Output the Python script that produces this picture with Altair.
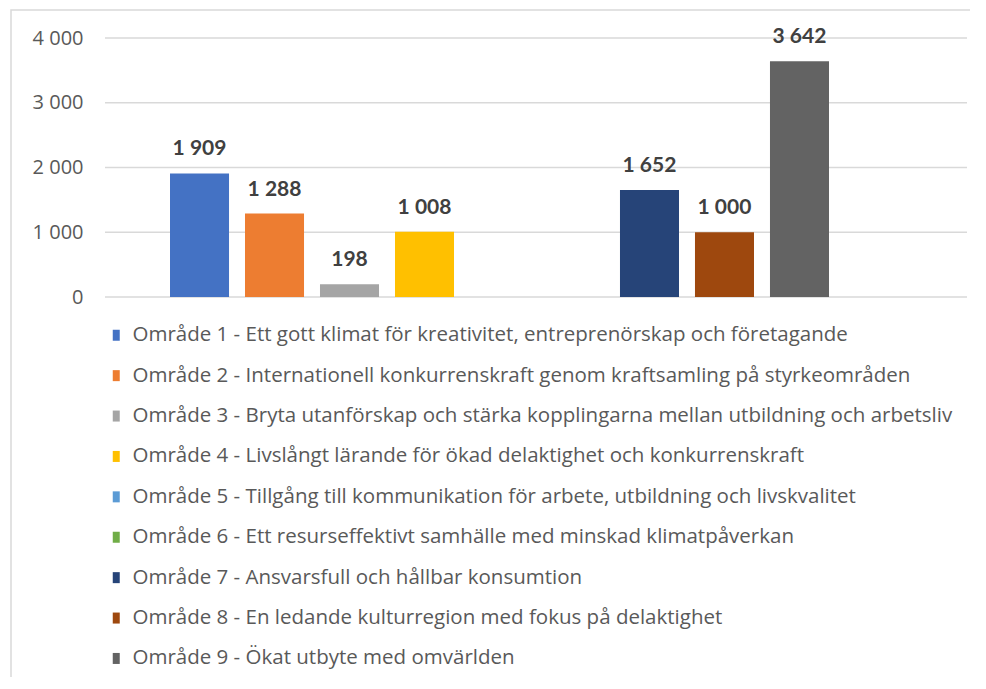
import altair as alt
import pandas as pd

areas = [
    "Område 1 - Ett gott klimat för kreativitet, entreprenörskap och företagande",
    "Område 2 - Internationell konkurrenskraft genom kraftsamling på styrkeområden",
    "Område 3 - Bryta utanförskap och stärka kopplingarna mellan utbildning och arbetsliv",
    "Område 4 - Livslångt lärande för ökad delaktighet och konkurrenskraft",
    "Område 5 - Tillgång till kommunikation för arbete, utbildning och livskvalitet",
    "Område 6 - Ett resurseffektivt samhälle med minskad klimatpåverkan",
    "Område 7 - Ansvarsfull och hållbar konsumtion",
    "Område 8 - En ledande kulturregion med fokus på delaktighet",
    "Område 9 - Ökat utbyte med omvärlden",
]
values = [1909, 1288, 198, 1008, None, None, 1652, 1000, 3642]
colors = ["#4472C4", "#ED7D31", "#A5A5A5", "#FFC000", "#5B9BD5",
          "#70AD47", "#264478", "#9E480E", "#636363"]
y_ticks = [0, 1000, 2000, 3000, 4000]

df = pd.DataFrame({"area": areas, "value": values})
grid_df = pd.DataFrame({"tick": y_ticks})

FONT = "Open Sans"
TXT = "#595959"

y_scale = alt.Scale(domain=[0, 4000], nice=False)
y_axis = alt.Axis(values=y_ticks, title=None, domain=False, ticks=False,
                  grid=False,
                  labelFont=FONT, labelFontSize=20, labelColor=TXT,
                  labelPadding=22,
                  labelExpr="replace(format(datum.value, ','), ',', ' ')")
x_enc = alt.X("area:N", sort=areas, axis=None,
              scale=alt.Scale(domain=areas, paddingInner=0.213,
                              paddingOuter=0, range=[65, 724]))

grid = alt.Chart(grid_df).mark_rule(color="#d9d9d9", strokeWidth=1.5).encode(
    y=alt.Y("tick:Q", scale=y_scale, axis=y_axis),
    x=alt.value(0), x2=alt.value(862),
)

base = alt.Chart(df)

bars = base.mark_bar().encode(
    x=x_enc,
    y=alt.Y("value:Q", scale=y_scale, axis=y_axis),
    color=alt.Color("area:N", sort=areas,
                    scale=alt.Scale(domain=areas, range=colors),
                    legend=alt.Legend(title=None, orient="none", legendX=1, legendY=287,
                                      direction="vertical", columns=1,
                                      symbolType="M-0.636,-1H0.636V1H-0.636Z",
                                      symbolSize=121,
                                      symbolStrokeWidth=0, symbolOffset=0,
                                      labelFont=FONT, labelFontSize=20.5, labelColor=TXT,
                                      labelLimit=1200, labelOffset=6, rowPadding=19.4)),
)

labels = base.transform_filter("datum.value != null").transform_calculate(
    lab="replace(format(datum.value, ','), ',', ' ')"
).mark_text(font="Lato", fontWeight="bold", fontSize=21, color="#404040",
            baseline="alphabetic", dy=-18).encode(
    x=x_enc,
    y=alt.Y("value:Q", scale=y_scale, axis=y_axis),
    text="lab:N",
)

frame = base.mark_rect(fill=None, stroke="#d9d9d9", strokeWidth=1.5).encode(
    x=alt.value(-94), x2=alt.value(900), y=alt.value(-28), y2=alt.value(700)
).transform_filter("datum.area == '" + areas[0] + "'")

chart = alt.layer(frame, grid, bars, labels).properties(
    width=862, height=259,
    autosize=alt.AutoSizeParams(type="none"),
    padding={"left": 97, "top": 30, "right": 3, "bottom": 380},
).configure_view(stroke=None)

chart.save("out.html", embed_options={"renderer": "svg", "actions": False})
